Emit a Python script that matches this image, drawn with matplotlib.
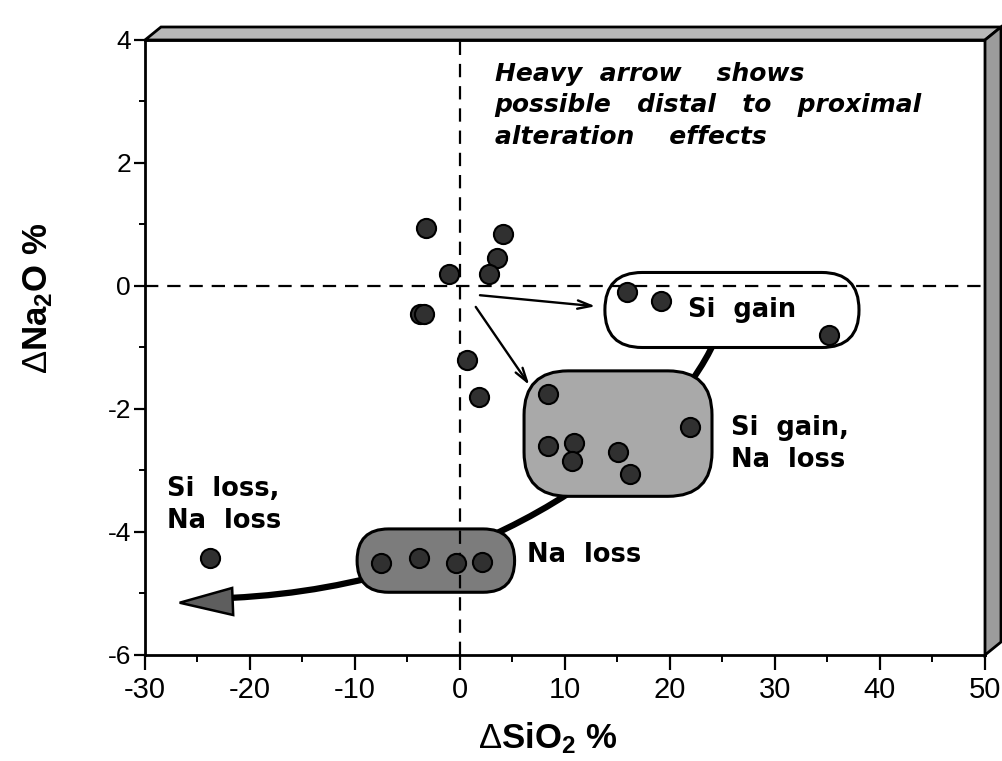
import matplotlib
matplotlib.use('Agg')
import matplotlib.pyplot as plt
from matplotlib.patches import FancyBboxPatch, Polygon, PathPatch
from matplotlib.path import Path
from matplotlib.ticker import MultipleLocator

plt.rcParams['font.family'] = ['Liberation Sans', 'DejaVu Sans']
plt.rcParams['axes.unicode_minus'] = False
plt.rcParams['mathtext.fontset'] = 'custom'
plt.rcParams['mathtext.rm'] = 'Liberation Sans'
plt.rcParams['mathtext.bf'] = 'Liberation Sans:bold'
plt.rcParams['mathtext.it'] = 'Liberation Sans:italic'

# mass change, delta SiO2 % vs delta Na2O %, split by alteration group
least_x = [-3.2, 4.1, 3.5, 2.8, -1.0, -3.8, -3.4, 0.65, 1.8]
least_y = [0.95, 0.85, 0.45, 0.2, 0.2, -0.45, -0.45, -1.2, -1.8]
sigain_x = [15.9, 19.1, 35.1]
sigain_y = [-0.1, -0.25, -0.8]
sigain_naloss_x = [8.35, 21.9, 8.35, 10.9, 10.7, 15.05, 16.2]
sigain_naloss_y = [-1.75, -2.3, -2.6, -2.55, -2.85, -2.7, -3.05]
naloss_x = [-7.5, -3.9, -0.4, 2.1]
naloss_y = [-4.5, -4.42, -4.5, -4.48]
siloss_naloss_x = [-23.8]
siloss_naloss_y = [-4.42]

# outlines round each group: x0, x1, y0, y1, corner (x units), fill
group_boxes = [
    (13.8, 38.0, -1.0, 0.22, 3.55, 'white'),
    (6.1, 24.0, -3.42, -1.38, 4.2, '#a9a9a9'),
    (-9.8, 5.2, -4.98, -3.95, 3.0, '#7c7c7c'),
]

# heavy trend arrow (bezier control points) and its head
trend_ctrl = [(24.3, -0.88), (20.0, -2.54), (3.05, -4.86), (-21.7, -5.07)]
trend_head = [(-26.7, -5.15), (-21.7, -4.91), (-21.6, -5.35)]

# thin arrows from the least altered cluster
thin_arrows = [((1.9, -0.15), (12.9, -0.33)),
               ((1.5, -0.34), (6.6, -1.61))]

W, H = 1003, 761
fig = plt.figure(figsize=(W / 100, H / 100), dpi=100)
L, R, T, B = 145, 985, 40, 655
ax = fig.add_axes([L / W, 1 - B / H, (R - L) / W, (B - T) / H])
ax.set_xlim(-30, 50)
ax.set_ylim(-6, 4)

# y units per x unit, so corners come out round on screen
asp = ((R - L) / 80) / ((B - T) / 10)

for x0, x1, y0, y1, rr, fc in group_boxes:
    box = FancyBboxPatch((x0, y0), x1 - x0, y1 - y0,
                         boxstyle='round,pad=0,rounding_size=%g' % rr,
                         mutation_aspect=asp, fc=fc, ec='black', lw=2.2,
                         zorder=2)
    ax.add_patch(box)

curve = Path(trend_ctrl, [Path.MOVETO, Path.CURVE4, Path.CURVE4, Path.CURVE4])
ax.add_patch(PathPatch(curve, fc='none', ec='black', lw=4.5, zorder=1.5,
                       capstyle='butt'))
ax.add_patch(Polygon(trend_head, closed=True, fc='#5e5e5e', ec='black',
                     lw=1.8, zorder=1.6))

ax.axhline(0, color='black', lw=1.6, dashes=(6, 4), zorder=2.5)
ax.axvline(0, color='black', lw=1.6, dashes=(6, 4), zorder=2.5)

for start, tip in thin_arrows:
    ax.annotate('', xy=tip, xytext=start, zorder=3,
                arrowprops=dict(arrowstyle='->,head_length=1.0,head_width=0.3',
                                lw=1.7, color='black', shrinkA=0, shrinkB=0))

for xs, ys in [(least_x, least_y), (sigain_x, sigain_y),
               (sigain_naloss_x, sigain_naloss_y), (naloss_x, naloss_y),
               (siloss_naloss_x, siloss_naloss_y)]:
    ax.scatter(xs, ys, s=190, c='#303030', edgecolors='black',
               linewidths=1.5, zorder=4)

lab = dict(fontsize=18.5, fontweight='bold', family=['DejaVu Sans'], zorder=5)
ax.text(21.7, -0.39, 'Si  gain', va='center', ha='left', **lab)
ax.text(25.8, -2.57, 'Si  gain,\nNa  loss', va='center', ha='left',
        linespacing=1.3, **lab)
ax.text(-27.9, -3.56, 'Si  loss,\nNa  loss', va='center', ha='left',
        linespacing=1.3, **lab)
ax.text(6.4, -4.37, 'Na  loss', va='center', ha='left', **lab)

ax.text(3.3, 3.65, 'Heavy  arrow    shows\npossible   distal   to   proximal\n'
        'alteration    effects', va='top', ha='left', fontsize=18,
        fontweight='bold', style='italic', family=['DejaVu Sans'],
        linespacing=1.4, zorder=5)

# axes frame and ticks
for sp in ax.spines.values():
    sp.set_linewidth(2)
ax.xaxis.set_major_locator(MultipleLocator(10))
ax.xaxis.set_minor_locator(MultipleLocator(5))
ax.yaxis.set_major_locator(MultipleLocator(2))
ax.yaxis.set_minor_locator(MultipleLocator(1))
ax.tick_params(axis='x', which='major', direction='out', length=11, width=1.6,
               labelsize=21, pad=4)
ax.tick_params(axis='x', which='minor', direction='out', length=5, width=1.4)
ax.tick_params(axis='y', which='major', direction='out', length=8, width=1.6,
               labelsize=19, pad=2)
ax.tick_params(axis='y', which='minor', direction='out', length=4, width=1.4)

# shaded depth on top and right of the frame
dx, dy = 16, 13
def fpt(px, py):
    return (px / W, 1 - py / H)
top_band = [fpt(L, T), fpt(R, T), fpt(R + dx, T - dy), fpt(L + dx, T - dy)]
side_band = [fpt(R, T), fpt(R + dx, T - dy), fpt(R + dx, B - dy), fpt(R, B)]
fig.patches.append(Polygon(top_band, closed=True, fc='#b8b8b8', ec='black',
                           lw=2, transform=fig.transFigure, figure=fig))
fig.patches.append(Polygon(side_band, closed=True, fc='#9c9c9c', ec='black',
                           lw=2, transform=fig.transFigure, figure=fig))

fig.text(548 / W, 1 - 738 / H, r'$\Delta\mathbf{SiO_2\ \%}$', ha='center',
         va='center', fontsize=25)
fig.text(38 / W, 1 - 298 / H, r'$\Delta\mathbf{Na_2O\ \%}$', ha='center',
         va='center', fontsize=25, rotation=90)

fig.savefig('out.png', dpi=100)
